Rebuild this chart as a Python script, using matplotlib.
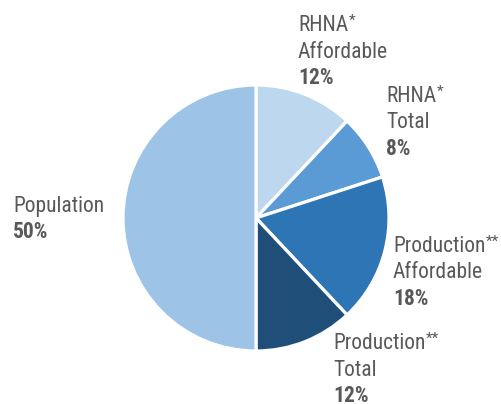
import matplotlib
matplotlib.use("Agg")
import matplotlib.pyplot as plt

# slice data, clockwise from 12 o'clock
names = ["RHNA\nAffordable", "RHNA\nTotal", "Production\nAffordable",
         "Production\nTotal", "Population"]
marks = ["*", "*", "**", "**", ""]
shares = [12, 8, 18, 12, 50]
colors = ["#BDD7EE", "#5B9BD5", "#2E75B6", "#1F4E79", "#9DC3E6"]

# label anchor: left x, baseline of first line (pixels from top-left)
label_pos = [(298, 31), (386, 102), (393, 252), (333, 349), (13, 212)]

W, H = 501, 404
FONT = ["Roboto Condensed", "Archivo Narrow", "DejaVu Sans"]
TEXT_COLOR = "#595959"
LINE_STEP = 26.5


def main() -> None:
    fig = plt.figure(figsize=(W / 100, H / 100), dpi=100)
    ax = fig.add_axes([0, 0, 1, 1])

    ax.pie(shares, colors=colors, startangle=90, counterclock=False,
           center=(256, H - 218), radius=133, frame=True,
           wedgeprops={"edgecolor": "white", "linewidth": 2.3})
    ax.set_xlim(0, W)
    ax.set_ylim(0, H)
    ax.set_aspect("equal")
    ax.axis("off")

    for name, mark, share, (x, y) in zip(names, marks, shares, label_pos):
        lines = name.split("\n")
        for i, line in enumerate(lines):
            t = ax.text(x, H - (y + i * LINE_STEP), line, family=FONT, fontsize=15.5,
                        color=TEXT_COLOR, ha="left", va="baseline")
            if i == 0 and mark:
                # footnote marks sit raised and small after the first line
                ax.annotate(mark, xy=(1, 1), xycoords=t, xytext=(0.5, 0.5),
                            textcoords="offset points", family=FONT, fontsize=11,
                            color=TEXT_COLOR, ha="left", va="top")
        ax.text(x, H - (y + len(lines) * LINE_STEP), f"{share}%", family=FONT,
                fontsize=15.5, fontweight="bold", color=TEXT_COLOR,
                ha="left", va="baseline")

    fig.savefig("out.png", dpi=100)
    plt.close(fig)


if __name__ == "__main__":
    main()
